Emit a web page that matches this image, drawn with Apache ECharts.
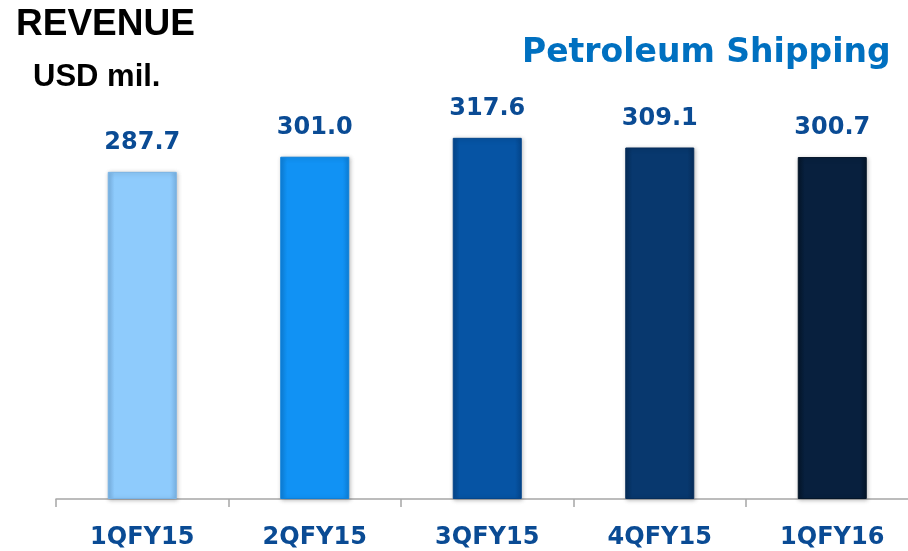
<!DOCTYPE html>
<html>
<head>
<meta charset="utf-8">
<script src="https://cdn.jsdelivr.net/npm/echarts@6/dist/echarts.min.js"></script>
<style>
html, body { margin: 0; padding: 0; background: #fff; }
#main { width: 908px; height: 551px; }
</style>
</head>
<body>
<div id="main"></div>
<script>
var quarters = ['1QFY15', '2QFY15', '3QFY15', '4QFY15', '1QFY16'];
var revenue = [287.7, 301.0, 317.6, 309.1, 300.7];
var barColors = ['#8ecbfc', '#1192f4', '#0654a4', '#08386e', '#08203e'];
var edges = ['#7ab4e6', '#0d80da', '#04468c', '#062d5a', '#051629'];

var myChart = echarts.init(document.getElementById('main'));

function shade(c, edge) {
    // darker edges left/right, fakes the bevel of the original bars
    return new echarts.graphic.LinearGradient(0, 0, 1, 0, [
        { offset: 0, color: edge },
        { offset: 0.1, color: c },
        { offset: 0.9, color: c },
        { offset: 1, color: edge }
    ]);
}

var option = {
    backgroundColor: '#fff',
    title: [{
        text: 'REVENUE',
        left: 11,
        top: 1,
        textStyle: { fontFamily: 'Liberation Sans', fontWeight: 'bold', fontSize: 37, color: '#000' }
    }, {
        text: 'USD mil.',
        left: 28,
        top: 57,
        textStyle: { fontFamily: 'Liberation Sans', fontWeight: 'bold', fontSize: 31, color: '#000' }
    }, {
        text: 'Petroleum Shipping',
        left: 517,
        top: 32,
        textStyle: { fontFamily: 'DejaVu Sans', fontWeight: 'bold', fontSize: 33, color: '#0070c0' }
    }],
    grid: {
        left: 56,
        width: 862.5,
        top: 101,
        bottom: 52,
        containLabel: false,
        outerBoundsMode: 'none'
    },
    xAxis: {
        type: 'category',
        data: quarters,
        axisLine: { lineStyle: { color: '#a6a6a6', width: 1.5 } },
        axisTick: { show: true, length: 8, lineStyle: { color: '#a6a6a6', width: 1.5 } },
        axisLabel: {
            margin: 27,
            fontFamily: 'DejaVu Sans',
            fontWeight: 'bold',
            fontSize: 24,
            color: '#0a4b94'
        }
    },
    yAxis: {
        type: 'value',
        min: 0,
        max: 350,
        show: false,
        splitLine: { show: false }
    },
    series: [{
        type: 'bar',
        barWidth: '40%',
        data: revenue.map(function (v, i) {
            return {
                value: v,
                itemStyle: {
                    color: shade(barColors[i], edges[i]),
                    borderColor: edges[i],
                    borderWidth: 1,
                    shadowColor: 'rgba(0,0,0,0.25)',
                    shadowBlur: 4,
                    shadowOffsetX: 1,
                    shadowOffsetY: 1
                }
            };
        }),
        label: {
            show: true,
            position: 'top',
            distance: 17,
            formatter: function (p) { return p.value.toFixed(1); },
            fontFamily: 'DejaVu Sans',
            fontWeight: 'bold',
            fontSize: 24,
            color: '#0a4b94'
        }
    }]
};

myChart.setOption(option);
window.onresize = function () {
    if (myChart) {
        myChart.resize();
    }
};
</script>
</body>
</html>
